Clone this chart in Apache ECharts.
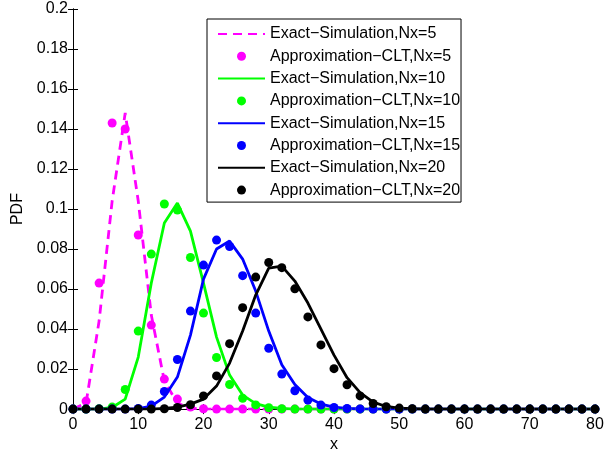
<!DOCTYPE html>
<html>
<head>
<meta charset="utf-8">
<script src="https://cdn.jsdelivr.net/npm/echarts@6/dist/echarts.min.js"></script>
<style>
    html, body { margin: 0; padding: 0; background: #fff; }
    #chart { width: 611px; height: 458px; }
</style>
</head>
<body>
<div id="chart"></div>
<script>
// x positions (step 2)
const xs = [0, 2, 4, 6, 8, 10, 12, 14, 16, 18,
    20, 22, 24, 26, 28, 30, 32, 34, 36, 38,
    40, 42, 44, 46, 48, 50, 52, 54, 56, 58,
    60, 62, 64, 66, 68, 70, 72, 74, 76, 78,
    80]

// Nx = 5
const exact5 = [0, 0.003, 0.044, 0.104, 0.148, 0.104, 0.047, 0.014, 0.003, 0.0005,
    0, 0, 0, 0, 0, 0, 0, 0, 0, 0,
    0, 0, 0, 0, 0, 0, 0, 0, 0, 0,
    0, 0, 0, 0, 0, 0, 0, 0, 0, 0,
    0]
const approx5 = [0, 0.004, 0.063, 0.143, 0.140, 0.087, 0.042, 0.015, 0.005, 0.001,
    0.0002, 0, 0, 0, 0, 0, 0, 0, 0, 0,
    0, 0, 0, 0, 0, 0, 0, 0, 0, 0,
    0, 0, 0, 0, 0, 0, 0, 0, 0, 0,
    0]

// Nx = 10
const exact10 = [0, 0, 0, 0.0008, 0.005, 0.026, 0.063, 0.093, 0.103, 0.089,
    0.063, 0.036, 0.017, 0.007, 0.0027, 0.001, 0.0003, 0, 0, 0,
    0, 0, 0, 0, 0, 0, 0, 0, 0, 0,
    0, 0, 0, 0, 0, 0, 0, 0, 0, 0,
    0]
const approx10 = [0, 0, 0.0002, 0.001, 0.0098, 0.039, 0.0775, 0.1025, 0.0995, 0.0758,
    0.048, 0.0258, 0.0123, 0.0054, 0.0021, 0.0007, 0.0002, 0, 0, 0,
    0, 0, 0, 0, 0, 0, 0, 0, 0, 0,
    0, 0, 0, 0, 0, 0, 0, 0, 0, 0,
    0]

// Nx = 15
const exact15 = [0, 0, 0, 0, 0, 0.0002, 0.0015, 0.006, 0.016, 0.037,
    0.065, 0.080, 0.084, 0.075, 0.059, 0.039, 0.0222, 0.0123, 0.0058, 0.0025,
    0.001, 0.0004, 0.0001, 0, 0, 0, 0, 0, 0, 0,
    0, 0, 0, 0, 0, 0, 0, 0, 0, 0,
    0]
const approx15 = [0, 0, 0, 0, 0, 0.0003, 0.002, 0.0088, 0.0248, 0.049,
    0.072, 0.0845, 0.0813, 0.0667, 0.048, 0.0304, 0.0175, 0.0092, 0.0045, 0.002,
    0.0008, 0.0003, 0.0001, 0, 0, 0, 0, 0, 0, 0,
    0, 0, 0, 0, 0, 0, 0, 0, 0, 0,
    0]

// Nx = 20
const exact20 = [0, 0, 0, 0, 0, 0, 0, 0.0003, 0.001, 0.0025,
    0.005, 0.0115, 0.023, 0.039, 0.057, 0.0705, 0.0715, 0.064, 0.053, 0.040,
    0.027, 0.0157, 0.0082, 0.0035, 0.0013, 0.0005, 0.0002, 0, 0, 0,
    0, 0, 0, 0, 0, 0, 0, 0, 0, 0,
    0]
const approx20 = [0, 0, 0, 0, 0, 0, 0, 0.0002, 0.0008, 0.0022,
    0.0066, 0.0166, 0.0327, 0.0507, 0.066, 0.0733, 0.0707, 0.0601, 0.0461, 0.0321,
    0.0202, 0.0122, 0.0066, 0.0028, 0.0012, 0.0005, 0.0002, 0, 0, 0,
    0, 0, 0, 0, 0, 0, 0, 0, 0, 0,
    0]

const groups = [
    { nx: 5, color: '#ff00ff', exact: exact5, approx: approx5, dash: [9, 6] },
    { nx: 10, color: '#00ff00', exact: exact10, approx: approx10, dash: 'solid' },
    { nx: 15, color: '#0000ff', exact: exact15, approx: approx15, dash: 'solid' },
    { nx: 20, color: '#000000', exact: exact20, approx: approx20, dash: 'solid' }
]

const FONT = 'Liberation Sans, Arial, Helvetica, sans-serif'
const FS = 16

function pairs(ys) {
    return xs.map((x, i) => [x, ys[i]])
}

const series = []
const legendData = []
groups.forEach(g => {
    const lineName = 'Exact\u2212Simulation,Nx=' + g.nx
    const dotName = 'Approximation\u2212CLT,Nx=' + g.nx
    // line entries: hide the symbol drawn in the middle of the legend line
    legendData.push({ name: lineName, itemStyle: { opacity: 0 } })
    legendData.push({ name: dotName, icon: 'circle' })
    series.push({
        name: lineName,
        type: 'line',
        data: pairs(g.exact),
        symbol: 'none',
        showSymbol: false,
        color: g.color,
        lineStyle: { color: g.color, width: 2.8, type: g.dash },
        z: 2
    })
    series.push({
        name: dotName,
        type: 'scatter',
        data: pairs(g.approx),
        symbol: 'circle',
        symbolSize: 9,
        color: g.color,
        itemStyle: { color: g.color, opacity: 1 },
        z: 2
    })
})

const chart = echarts.init(document.getElementById('chart'), null, { renderer: 'canvas' })

const axisCommon = {
    axisLine: { show: true, lineStyle: { color: '#000', width: 1 } },
    axisTick: { show: true, inside: true, length: 5, lineStyle: { color: '#000' } },
    splitLine: { show: false }
}

chart.setOption({
    animation: false,
    backgroundColor: '#fff',
    grid: { left: 73, right: 16, top: 9, bottom: 43 },
    legend: {
        orient: 'vertical',
        align: 'left',
        left: 207,
        top: 19,
        padding: [7, 1, 4, 10],
        itemWidth: 47,
        itemHeight: 9,
        itemGap: 6.3,
        borderColor: '#000',
        borderWidth: 1,
        backgroundColor: '#fff',
        data: legendData,
        textStyle: { fontFamily: FONT, fontSize: FS, color: '#000', lineHeight: 16 }
    },
    xAxis: [
        Object.assign({
            type: 'value',
            min: 0, max: 80, interval: 10,
            name: 'x',
            nameLocation: 'middle',
            nameGap: 26,
            nameTextStyle: { fontFamily: FONT, fontSize: FS, color: '#000' },
            axisLabel: { fontFamily: FONT, fontSize: FS, color: '#000', margin: 7 }
        }, axisCommon),
        Object.assign({
            type: 'value',
            position: 'top',
            min: 0, max: 80, interval: 10,
            axisLabel: { show: false }
        }, axisCommon)
    ],
    yAxis: [
        Object.assign({
            type: 'value',
            min: 0, max: 0.2, interval: 0.02,
            name: 'PDF',
            nameLocation: 'middle',
            nameGap: 44,
            nameTextStyle: { fontFamily: FONT, fontSize: FS, color: '#000' },
            axisLabel: { fontFamily: FONT, fontSize: FS, color: '#000', margin: 5 }
        }, axisCommon),
        Object.assign({
            type: 'value',
            position: 'right',
            min: 0, max: 0.2, interval: 0.02,
            axisLabel: { show: false }
        }, axisCommon)
    ],
    series: series
})
</script>
</body>
</html>
